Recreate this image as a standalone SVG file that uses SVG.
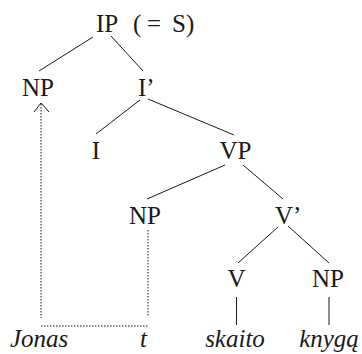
<svg xmlns="http://www.w3.org/2000/svg" width="362" height="354" viewBox="0 0 362 354">
<style>
text{font-family:"Liberation Serif","Times New Roman",serif;font-size:25px;fill:#1a1a1a}
.c{text-anchor:middle}
.it{font-style:italic}
.e{stroke:#1a1a1a;stroke-width:1;fill:none}
.d{stroke:#1a1a1a;stroke-width:1;fill:none;stroke-dasharray:1.5 1.5}
</style>
<rect width="362" height="354" fill="#fff"/>
<g id="connectors">
<line class="e" x1="93" y1="37" x2="39" y2="71"/>
<line class="e" x1="111" y1="36" x2="143" y2="71"/>
<line class="e" x1="140" y1="100" x2="96" y2="134"/>
<line class="e" x1="148" y1="99" x2="234" y2="135"/>
<line class="e" x1="225" y1="165" x2="147" y2="199"/>
<line class="e" x1="243" y1="165" x2="283" y2="199"/>
<line class="e" x1="278" y1="227" x2="238" y2="263"/>
<line class="e" x1="288" y1="226" x2="329" y2="263"/>
<line class="e" x1="236.5" y1="297" x2="236.5" y2="325"/>
<line class="e" x1="329" y1="297" x2="329" y2="325"/>
<path class="d" d="M41,104 V318"/>
<path class="d" d="M148,230 V317"/>
<path class="d" d="M41,326 H148"/>
<path class="e" d="M34,112 L41,103 L49,112"/>
</g>
<g id="IP"><text x="96" y="32">IP</text><text x="133" y="32">(</text><text x="147" y="32">=</text><text x="172" y="32">S)</text></g>
<g id="NP1"><text class="c" x="38" y="96">NP</text></g>
<g id="Ibar"><text x="138" y="96">I’</text></g>
<g id="I"><text class="c" x="96" y="159">I</text></g>
<g id="VP"><text class="c" x="235.5" y="159">VP</text></g>
<g id="NP2"><text class="c" x="145" y="224">NP</text></g>
<g id="Vbar"><text x="275" y="224">V’</text></g>
<g id="V"><text class="c" x="236.5" y="287">V</text></g>
<g id="NP3"><text class="c" x="328" y="287">NP</text></g>
<g id="Jonas"><text class="it" x="10" y="347">Jonas</text></g>
<g id="t"><text class="it" x="140" y="347">t</text></g>
<g id="skaito"><text class="it c" x="235" y="347">skaito</text></g>
<g id="knyga"><text class="it c" x="329" y="347">knygą</text></g>
</svg>
